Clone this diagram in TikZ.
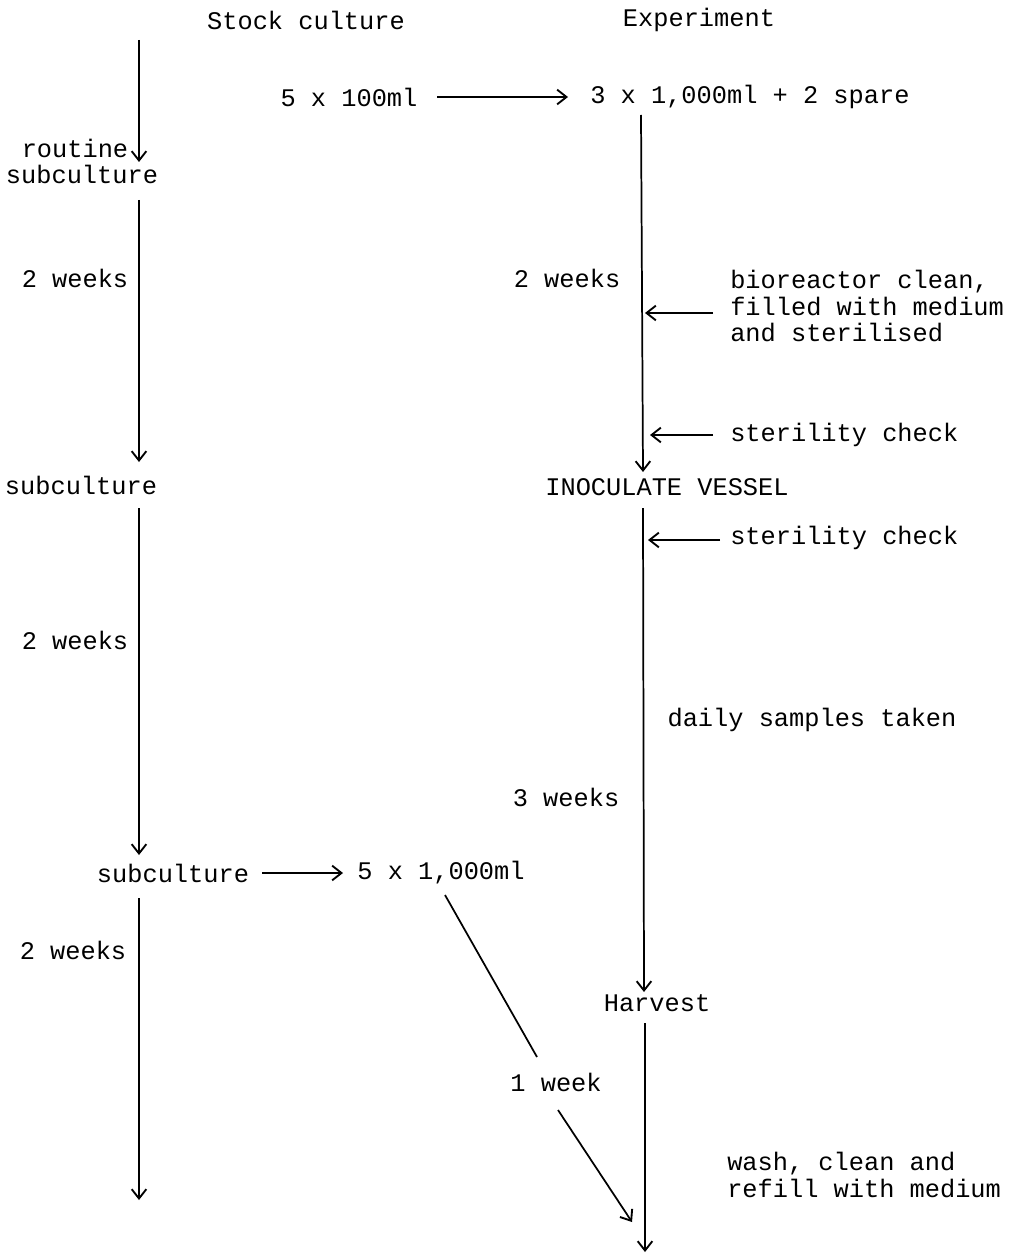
\documentclass[tikz,border=0pt]{standalone}
\usepackage{fontspec}
\setmonofont{Liberation Mono}
\usetikzlibrary{arrows.meta}
\tikzset{
  lbl/.style={font=\ttfamily\fontsize{19}{20}\selectfont, inner sep=0pt, text=black},
  conn/.style={line width=1.3pt, draw=black},
  arr/.style={conn, -{Straight Barb[length=7pt,width=11pt,line width=1.4pt]}}
}
\begin{document}
\begin{tikzpicture}[x=0.75pt,y=-0.75pt]
\useasboundingbox (0,0) rectangle (1014,1255);
% headings
\node[lbl] (hstock) at (306,20) {Stock culture};
\node[lbl] (hexp) at (699,20) {Experiment};
% left column texts
\node[lbl] (routine) at (75,148) {routine};
\node[lbl] (sub1) at (82,174) {subculture};
\node[lbl] (lw1) at (75,278) {2 weeks};
\node[lbl] (sub2) at (81,485) {subculture};
\node[lbl] (lw2) at (75,640) {2 weeks};
\node[lbl] (sub3) at (173,873) {subculture};
\node[lbl] (ml5) at (441,873) {5 x 1,000ml};
\node[lbl] (lw3) at (73,950) {2 weeks};
% top row
\node[lbl] (ml100) at (349,97) {5 x 100ml};
\node[lbl,anchor=west] (ml3) at (590,97) {3 x 1,000ml + 2 spare};
% right column texts
\node[lbl] (rw1) at (567,278) {2 weeks};
\node[lbl,anchor=west,align=left] (bio) at (730,306) {bioreactor clean,\\filled with medium\\and sterilised};
\node[lbl,anchor=west] (ster1) at (730,435) {sterility check};
\node[lbl] (inoc) at (667,487) {INOCULATE VESSEL};
\node[lbl,anchor=west] (ster2) at (730,538) {sterility check};
\node[lbl] (daily) at (812,720) {daily samples taken};
\node[lbl] (rw3) at (566,797) {3 weeks};
\node[lbl] (harv) at (657,1003) {Harvest};
\node[lbl] (week1) at (556,1082) {1 week};
\node[lbl,anchor=west,align=left] (wash) at (727,1175) {wash, clean and\\refill with medium};
% coordinates
\coordinate (l1a) at (139,40);  \coordinate (l1b) at (139,162);
\coordinate (l2a) at (139,200); \coordinate (l2b) at (139,462);
\coordinate (l3a) at (139,508); \coordinate (l3b) at (139,855);
\coordinate (l4a) at (139,898); \coordinate (l4b) at (139,1200);
\coordinate (r1a) at (641,115); \coordinate (r1b) at (643,472);
\coordinate (r2a) at (643,508); \coordinate (r2b) at (644,992);
\coordinate (r3a) at (645,1023); \coordinate (r3b) at (645,1252);
\coordinate (h1a) at (437,97);  \coordinate (h1b) at (568,97);
\coordinate (h2a) at (713,313); \coordinate (h2b) at (645,313);
\coordinate (h3a) at (713,435); \coordinate (h3b) at (650,435);
\coordinate (h4a) at (720,540); \coordinate (h4b) at (648,540);
\coordinate (h5a) at (262,873); \coordinate (h5b) at (343,873);
\coordinate (d1a) at (445,895); \coordinate (d1b) at (537,1057);
\coordinate (d2a) at (558,1110); \coordinate (d2b) at (632,1222);
% connectors
\draw[arr] (l1a) -- (l1b);
\draw[arr] (l2a) -- (l2b);
\draw[arr] (l3a) -- (l3b);
\draw[arr] (l4a) -- (l4b);
\draw[arr] (r1a) -- (r1b);
\draw[arr] (r2a) -- (r2b);
\draw[arr] (r3a) -- (r3b);
\draw[arr] (h1a) -- (h1b);
\draw[arr] (h2a) -- (h2b);
\draw[arr] (h3a) -- (h3b);
\draw[arr] (h4a) -- (h4b);
\draw[arr] (h5a) -- (h5b);
\draw[conn] (d1a) -- (d1b);
\draw[arr] (d2a) -- (d2b);
\end{tikzpicture}
\end{document}
